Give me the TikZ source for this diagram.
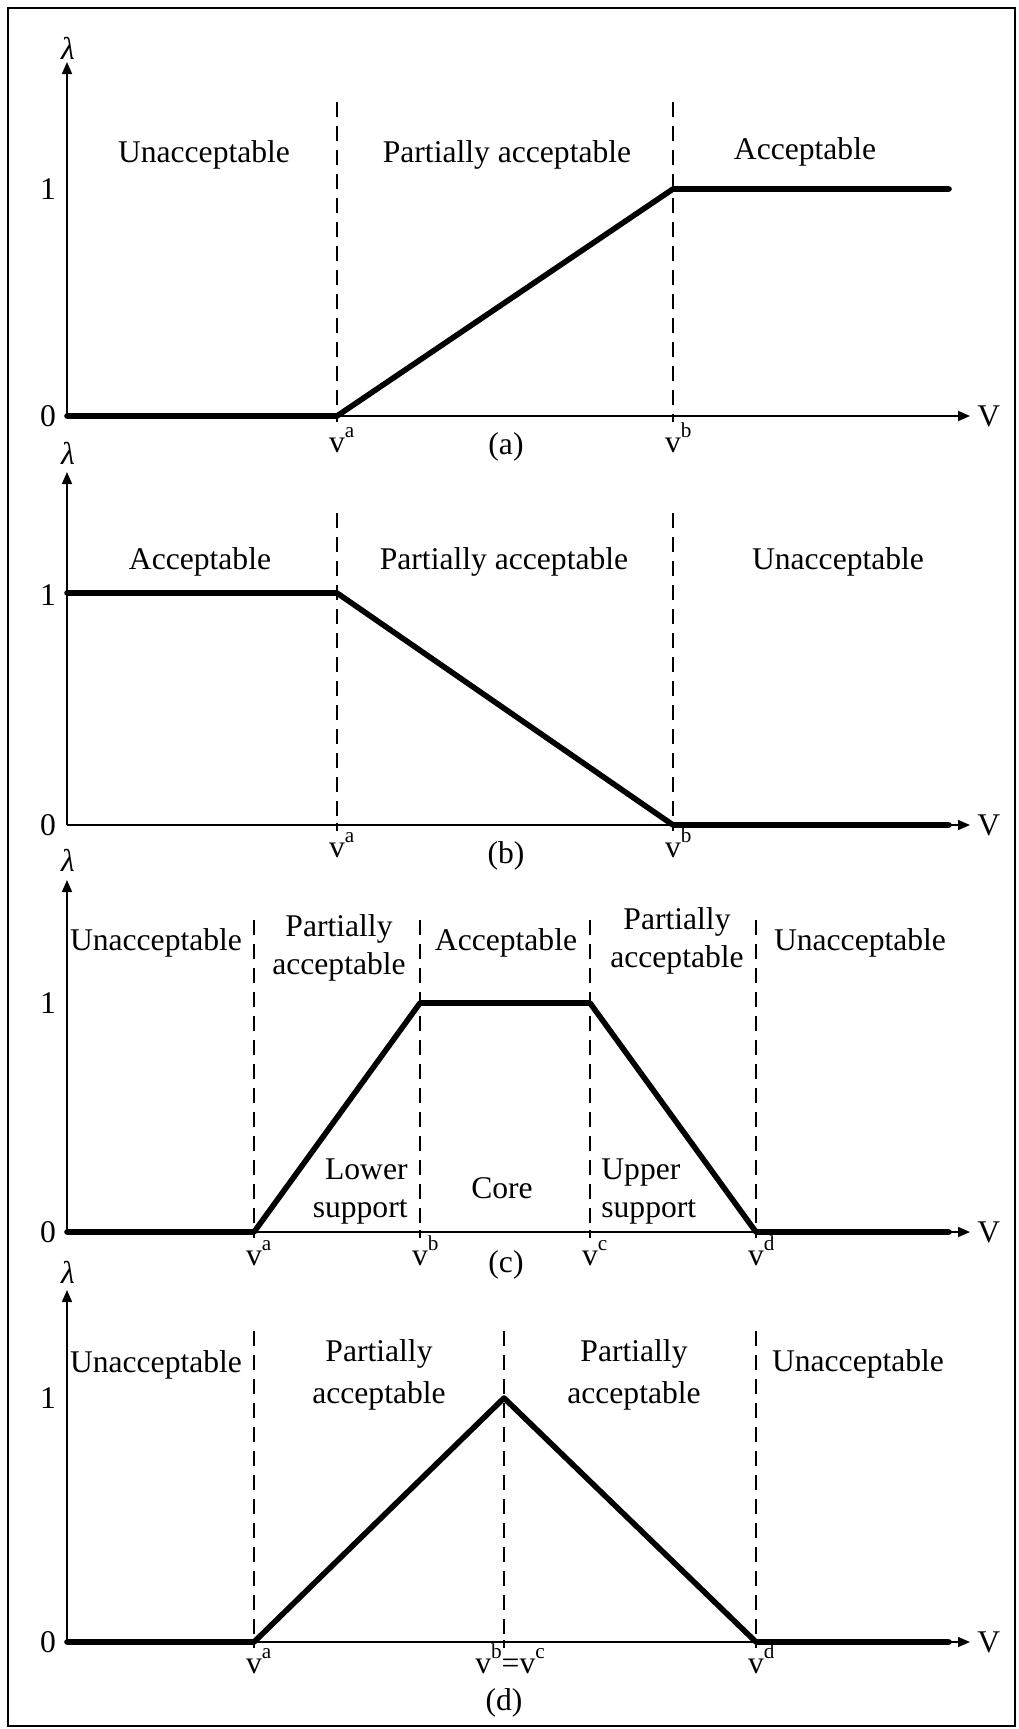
\documentclass[tikz,border=0pt]{standalone}
\usepackage{fontspec}
\setmainfont{Liberation Serif}
\usetikzlibrary{arrows.meta}
% small raised index letter used in the v labels
\newcommand\vsup[1]{\raisebox{7.4pt}{\fontsize{10.6}{11}\selectfont #1}}
% axes, arrow tips and the 0/1/lambda/V labels of one panel
% #1 axis y, #2 arrow tip y, #3 lambda y, #4 level-one y, #5 name prefix
\newcommand\PanelAxes[5]{%
  \coordinate (#5o) at (67,#1);
  \coordinate (#5ytip) at (67,#2);
  \coordinate (#5xtip) at (970,#1);
  \draw[axis] (#5o) -- (#5ytip);
  \draw[axis] (#5o) -- (#5xtip);
  \node[lbl] (#5lam) at (68,#3) {\textit{λ}};
  \node[lbl] (#5one) at (48,#4) {1};
  \node[lbl] (#5zero) at (48,#1) {0};
  \node[lbl, anchor=west] (#5V) at (977,#1) {V};
}
% dashed guide with its tick below the axis: #1 x, #2 top y, #3 axis y
\newcommand\Guide[3]{%
  \draw[guide] (#1,#2) -- (#1,#3);
  \draw[tick] (#1,#3-2) -- (#1,#3+6);
}
\begin{document}
\begin{tikzpicture}[x=0.5pt,y=-0.5pt,
  lbl/.style={font=\fontsize{15.8}{19}\selectfont, inner sep=0pt},
  region/.style={lbl, align=center},
  vlab/.style={lbl, anchor=base},
  axis/.style={line width=0.8pt, -{Triangle[length=6pt,width=5pt]}},
  curve/.style={line width=2.8pt, line cap=round, line join=round},
  guide/.style={line width=0.6pt, dash pattern=on 7.6pt off 4.4pt},
  tick/.style={line width=0.6pt},
]
\useasboundingbox (0,0) rectangle (1018,1729);
\draw[line width=1.4pt] (8,8) rectangle (1015,1726);

% ---------------- (a) increasing ----------------
\PanelAxes{416}{62}{48}{189}{a}
\Guide{337}{102}{416}
\Guide{673}{102}{416}
\coordinate (a1) at (337,416);
\coordinate (a2) at (673,189);
\coordinate (a3) at (949,189);
\draw[curve] (ao) -- (a1) -- (a2) -- (a3);
\node[region] (aU) at (204,155) {Unacceptable};
\node[region] (aP) at (507,155) {Partially acceptable};
\node[region] (aA) at (805,152) {Acceptable};
\node[vlab] (ava) at (337,452) {v\rlap{\vsup{a}}};
\node[vlab] (avb) at (673,452) {v\rlap{\vsup{b}}};
\node[lbl] (acap) at (506,447) {(a)};

% ---------------- (b) decreasing ----------------
\PanelAxes{825}{472}{453}{595}{b}
\Guide{337}{513}{825}
\Guide{673}{513}{825}
\coordinate (b0) at (67,593);
\coordinate (b1) at (337,593);
\coordinate (b2) at (673,825);
\coordinate (b3) at (949,825);
\draw[curve] (b0) -- (b1) -- (b2) -- (b3);
\node[region] (bA) at (200,562) {Acceptable};
\node[region] (bP) at (504,562) {Partially acceptable};
\node[region] (bU) at (838,562) {Unacceptable};
\node[vlab] (bva) at (337,857) {v\rlap{\vsup{a}}};
\node[vlab] (bvb) at (673,857) {v\rlap{\vsup{b}}};
\node[lbl] (bcap) at (506,856) {(b)};

% ---------------- (c) trapezoid ----------------
\PanelAxes{1232}{880}{860}{1003}{c}
\Guide{254}{920}{1232}
\Guide{420}{920}{1232}
\Guide{590}{920}{1232}
\Guide{756}{920}{1232}
\coordinate (c1) at (254,1232);
\coordinate (c2) at (420,1003);
\coordinate (c3) at (590,1003);
\coordinate (c4) at (756,1232);
\coordinate (c5) at (949,1232);
\draw[curve] (co) -- (c1) -- (c2) -- (c3) -- (c4) -- (c5);
\node[region] (cU1) at (156,943) {Unacceptable};
\node[region] (cP1) at (339,948) {Partially\\acceptable};
\node[region] (cA) at (506,943) {Acceptable};
\node[region] (cP2) at (677,941) {Partially\\acceptable};
\node[region] (cU2) at (860,943) {Unacceptable};
\node[lbl, align=right, anchor=east] (clow) at (408,1192) {Lower\\support};
\node[region] (ccore) at (502,1188) {Core};
\node[lbl, align=left, anchor=west] (cup) at (601,1192) {Upper\\support};
\node[vlab] (cva) at (254,1265) {v\rlap{\vsup{a}}};
\node[vlab] (cvb) at (420,1265) {v\rlap{\vsup{b}}};
\node[vlab] (cvc) at (590,1265) {v\rlap{\vsup{c}}};
\node[vlab] (cvd) at (756,1265) {v\rlap{\vsup{d}}};
\node[lbl] (ccap) at (506,1265) {(c)};

% ---------------- (d) triangle ----------------
\PanelAxes{1642}{1290}{1272}{1398}{d}
\Guide{254}{1331}{1642}
\Guide{504}{1331}{1642}
\Guide{756}{1331}{1642}
\coordinate (d1) at (254,1642);
\coordinate (d2) at (504,1398);
\coordinate (d3) at (756,1642);
\coordinate (d4) at (949,1642);
\draw[curve] (do) -- (d1) -- (d2) -- (d3) -- (d4);
\node[region] (dU1) at (156,1365) {Unacceptable};
\node[lbl, align=center, text depth=0pt] (dP1) at (379,1372) {Partially\\[2pt]acceptable};
\node[lbl, align=center, text depth=0pt] (dP2) at (634,1372) {Partially\\[2pt]acceptable};
\node[region] (dU2) at (858,1364) {Unacceptable};
\node[vlab] (dva) at (254,1673) {v\rlap{\vsup{a}}};
\node[vlab] (dvbc) at (510,1673) {v\vsup{b}=v\vsup{c}};
\node[vlab] (dvd) at (756,1673) {v\rlap{\vsup{d}}};
\node[lbl] (dcap) at (504,1703) {(d)};
\end{tikzpicture}
\end{document}
